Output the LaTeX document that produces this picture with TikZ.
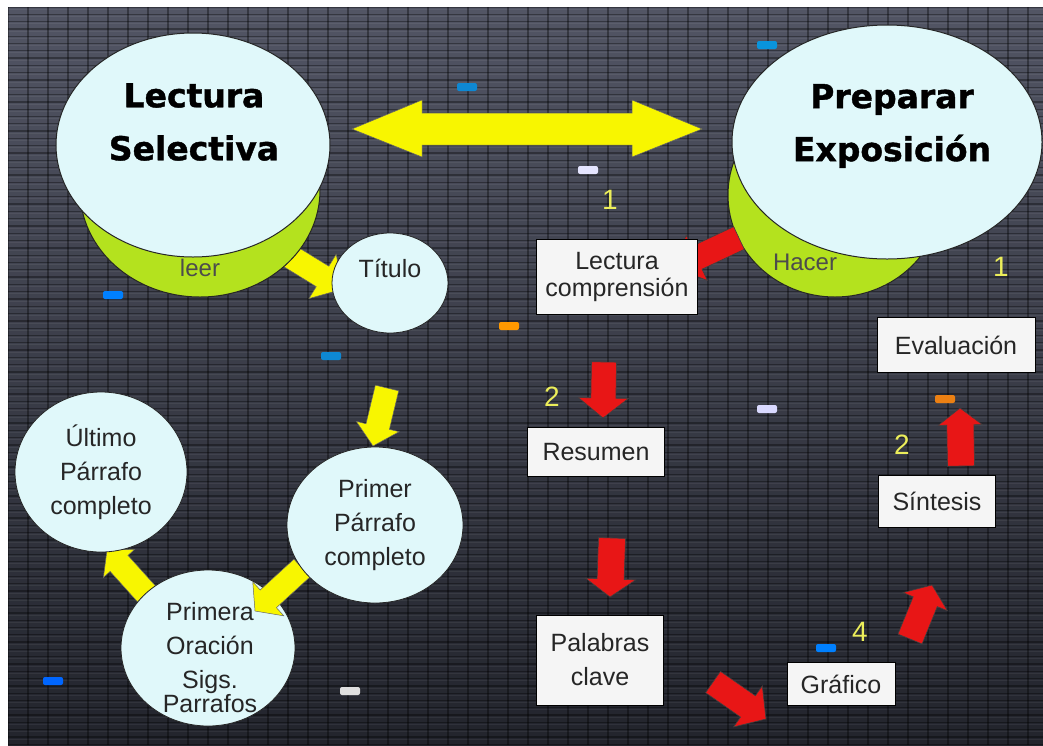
\documentclass[tikz,border=0pt]{standalone}
\usepackage{fontspec}
\setmainfont{Liberation Sans}
\newfontfamily\titlefont{DejaVu Sans}[BoldFeatures={FakeBold=1.2}]
\usepackage{tikz}
\usetikzlibrary{shapes.geometric,calc}

\definecolor{bgtop}{RGB}{82,85,100}
\definecolor{bgbot}{RGB}{34,36,44}
\definecolor{bubblefill}{RGB}{224,248,250}
\definecolor{limegreen}{RGB}{180,226,30}
\definecolor{arrowyellow}{RGB}{248,246,0}
\definecolor{arrowred}{RGB}{232,22,22}
\definecolor{numyellow}{RGB}{236,238,90}

\tikzset{
  gridline/.style={black, opacity=0.35, line width=1.3pt},
  gridlight/.style={white, opacity=0.06, line width=0.8pt},
  bigbubble/.style={ellipse, draw=black!85, line width=1pt, fill=bubblefill, inner sep=0pt},
  greenbase/.style={ellipse, draw=black!85, line width=1pt, fill=limegreen, inner sep=0pt},
  bubble/.style={ellipse, draw=black!85, line width=0.8pt, fill=bubblefill, inner sep=0pt,
    align=center, text=black!85, font=\fontsize{25}{34}\selectfont},
  titletext/.style={align=center, text=black, font=\titlefont\bfseries\fontsize{33}{53}\selectfont},
  softtext/.style={text=black!70, font=\fontsize{24}{28}\selectfont},
  bubbletext/.style={text=black!85, font=\fontsize{25}{34}\selectfont},
  stepbox/.style={rectangle, draw=black, line width=0.8pt, fill=white!96!black, inner sep=0pt,
    align=center, text=black!85, font=\fontsize{25}{27}\selectfont},
  numlabel/.style={text=numyellow, font=\fontsize{28}{30}\selectfont},
  yarrow/.style={fill=arrowyellow, draw=black!60, line width=0.5pt},
  rarrow/.style={fill=arrowred, draw=black!75, line width=0.6pt},
}

% block arrow: style, tail, tip, shaft half width, head half width, head length
\newcommand{\blockarrow}[6]{%
  \path[#1] let \p1=(#2), \p2=(#3),
    \n1={atan2(\y2-\y1,\x2-\x1)}, \n2={veclen(\x2-\x1,\y2-\y1)} in
    [shift={(\p1)}, rotate=\n1]
    (0pt,#4pt) -- ({\n2-#6pt},#4pt) -- ({\n2-#6pt},#5pt) -- (\n2,0pt)
    -- ({\n2-#6pt},-#5pt) -- ({\n2-#6pt},-#4pt) -- (0pt,-#4pt) -- cycle;}

\begin{document}
\begin{tikzpicture}[x=1pt,y=-1pt]
  \useasboundingbox (0,0) rectangle (1043,745);
  \fill[white] (0,0) rectangle (1043,745);
  \shade[top color=bgtop, bottom color=bgbot] (8,7) rectangle (1043,745);
  \begin{scope}
    \clip (8,7) rectangle (1043,745);
    \foreach \k in {0,...,101} {
      \draw[gridline] (8,{7+7.3*\k}) -- (1043,{7+7.3*\k});
      \draw[gridlight] (8,{9+7.3*\k}) -- (1043,{9+7.3*\k});
    }
    \foreach \k in {0,...,52}
      \draw[gridline] ({8+20*\k},7) -- ({8+20*\k},745);
  \end{scope}

  % small tiles
  \foreach \x/\y/\c in {467/87/cyan!70!blue, 767/45/cyan!80!blue, 588/170/white!90!blue,
      113/295/blue!50!cyan, 509/326/orange!80!yellow, 331/356/cyan!70!blue,
      767/409/white!85!blue, 945/399/orange!70!brown, 826/648/blue!50!cyan,
      53/681/blue!60!cyan, 350/691/white!75!gray}
    \fill[\c, rounded corners=2pt] (\x-10,\y-4) rectangle (\x+10,\y+4);

  % yellow arrows
  \coordinate (y1s) at (278,249);
  \coordinate (y1e) at (343,289);
  \coordinate (y2s) at (387,388);
  \coordinate (y2e) at (373,446);
  \coordinate (y3s) at (302,568);
  \coordinate (y3e) at (255,611);
  \coordinate (y4s) at (152,600);
  \coordinate (y4e) at (107,550);
  \blockarrow{yarrow}{y1s}{y1e}{12}{26}{24}
  \blockarrow{yarrow}{y2s}{y2e}{12}{22}{20}
  \blockarrow{yarrow}{y4s}{y4e}{12}{21}{18}

  % double arrow
  \path[yarrow] (352,129) -- (422,100) -- (422,113) -- (632,113) -- (632,100)
    -- (702,129) -- (632,157) -- (632,145) -- (422,145) -- (422,157) -- cycle;

  % main bubbles
  \node[greenbase, minimum width=240pt, minimum height=214pt] (selbase) at (200,190) {};
  \node[bigbubble, minimum width=274pt, minimum height=224pt] (sel) at (193,145) {};
  \node[titletext] (seltxt) at (194,122) {Lectura\\Selectiva};
  \node[softtext] (leer) at (200,268) {leer};

  \node[greenbase, minimum width=214pt, minimum height=204pt] (prepbase) at (835,195) {};
  \node[bigbubble, minimum width=310pt, minimum height=234pt] (prep) at (887,142) {};
  \node[titletext] (preptxt) at (892,126) {Preparar\\Exposición};
  \node[softtext] (hacer) at (805,262) {Hacer};

  % reading bubbles
  \node[bubble, minimum width=116pt, minimum height=100pt] (titulo) at (390,283) {};
  \node[bubbletext] (titulotxt) at (390,268) {Título};
  \node[bubble, minimum width=172pt, minimum height=160pt] (ultimo) at (101,472) {Último\\Párrafo\\completo};
  \node[bubble, minimum width=174pt, minimum height=156pt] (primera) at (208,648) {};
  \node[bubbletext, align=center] (primeratxt) at (210,658) {Primera\\Oración\\Sigs.\\[-10pt]Parrafos};
  \blockarrow{yarrow}{y3s}{y3e}{12}{23}{18}
  \node[bubble, minimum width=176pt, minimum height=156pt] (primer) at (375,525) {Primer\\Párrafo\\completo};

  % red arrows
  \coordinate (r1s) at (739,238);
  \coordinate (r1e) at (675,268);
  \coordinate (r2s) at (604,362);
  \coordinate (r2e) at (603,418);
  \coordinate (r3s) at (612,538);
  \coordinate (r3e) at (610,597);
  \coordinate (r4s) at (713,682);
  \coordinate (r4e) at (766,719);
  \coordinate (r5s) at (910,639);
  \coordinate (r5e) at (932,585);
  \coordinate (r6s) at (961,466);
  \coordinate (r6e) at (960,408);
  \blockarrow{rarrow}{r1s}{r1e}{12.5}{25}{24}
  \blockarrow{rarrow}{r2s}{r2e}{12.5}{25}{20}
  \blockarrow{rarrow}{r3s}{r3e}{13.5}{25}{18}
  \blockarrow{rarrow}{r4s}{r4e}{13}{25}{22}
  \blockarrow{rarrow}{r5s}{r5e}{13}{24}{18}
  \blockarrow{rarrow}{r6s}{r6e}{13.5}{22}{17}

  % steps
  \node[stepbox, minimum width=161pt, minimum height=75pt] (lcomp) at (617,277) {Lectura\\comprensión};
  \node[stepbox, minimum width=158pt, minimum height=55pt] (eval) at (956,345) {Evaluación};
  \node[stepbox, minimum width=137pt, minimum height=49pt] (resumen) at (596,452) {Resumen};
  \node[stepbox, minimum width=117pt, minimum height=52pt] (sintesis) at (937,501) {Síntesis};
  \node[stepbox, minimum width=127pt, minimum height=90pt, font=\fontsize{25}{34}\selectfont] (palabras) at (600,660) {Palabras\\clave};
  \node[stepbox, minimum width=108pt, minimum height=43pt] (grafico) at (841,684) {Gráfico};

  % numbers
  \node[numlabel] (n1a) at (610,200) {1};
  \node[numlabel] (n1b) at (1001,267) {1};
  \node[numlabel] (n2a) at (552,397) {2};
  \node[numlabel] (n2b) at (902,445) {2};
  \node[numlabel] (n4) at (860,632) {4};
\end{tikzpicture}
\end{document}
